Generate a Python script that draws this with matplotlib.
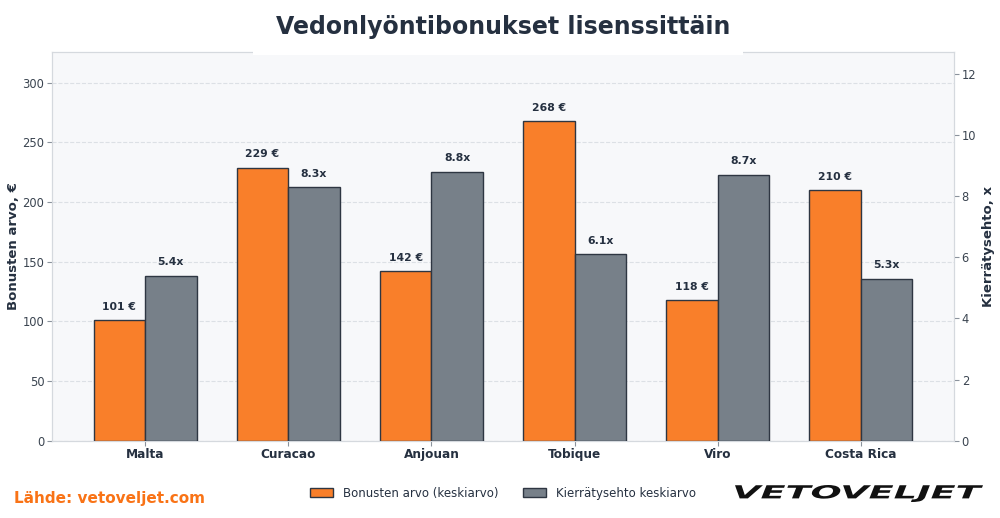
import matplotlib
matplotlib.use("Agg")
import matplotlib.pyplot as plt
import numpy as np
from matplotlib.textpath import TextPath
from matplotlib.patches import PathPatch, Rectangle
from matplotlib.font_manager import FontProperties
from matplotlib.transforms import Affine2D, IdentityTransform

# data
licenses = ["Malta", "Curacao", "Anjouan", "Tobique", "Viro", "Costa Rica"]
bonus_eur = [101, 229, 142, 268, 118, 210]
wagering_x = [5.4, 8.3, 8.8, 6.1, 8.7, 5.3]

ORANGE = "#F97F2A"
GREY = "#778089"
DARK = "#253040"
EDGE = "#2E3642"
SPINE = "#D5D9DE"

fig = plt.figure(figsize=(10, 5.18), dpi=100)
ax = fig.add_axes([0.052, 0.149, 0.902, 0.751])
ax2 = ax.twinx()
ax.set_facecolor("#F7F8FA")

x = np.arange(len(licenses))
w = 0.36

b1 = ax.bar(x - w / 2, bonus_eur, w, color=ORANGE, edgecolor=EDGE, linewidth=1,
            label="Bonusten arvo (keskiarvo)", zorder=3)
b2 = ax2.bar(x + w / 2, wagering_x, w, color=GREY, edgecolor=EDGE, linewidth=1,
             label="Kierrätysehto keskiarvo", zorder=3)

for rect, v in zip(b1, bonus_eur):
    ax.annotate(f"{v} €", (rect.get_x() + rect.get_width() / 2, v),
                xytext=(0, 6), textcoords="offset points", ha="center", va="bottom",
                fontsize=7.8, fontweight="bold", color=DARK)
for rect, v in zip(b2, wagering_x):
    ax2.annotate(f"{v}x", (rect.get_x() + rect.get_width() / 2, v),
                 xytext=(0, 6), textcoords="offset points", ha="center", va="bottom",
                 fontsize=7.8, fontweight="bold", color=DARK)

ax.set_xlim(-0.65, 5.65)
ax.set_ylim(0, 326)
ax2.set_ylim(0, 12.72)
ax.set_yticks(range(0, 301, 50))
ax2.set_yticks(range(0, 13, 2))

ax.set_xticks(x)
ax.set_xticklabels(licenses, fontsize=8.7, fontweight="bold", color=DARK)
ax.tick_params(axis="y", labelsize=8.3, colors="#8A929C", labelcolor="#3A4450",
               length=3.5, pad=2)
ax2.tick_params(axis="y", labelsize=8.3, colors="#8A929C", labelcolor="#3A4450",
                length=3.5, pad=2)
ax.tick_params(axis="x", colors="#8A929C", labelcolor=DARK, length=3.5, pad=2)

ax.grid(axis="y", linestyle="--", color="#DCE0E5", linewidth=0.8, zorder=0)
ax.set_axisbelow(True)

ax.set_ylabel("Bonusten arvo, €", fontsize=9.5, fontweight="bold", color=DARK, labelpad=2)
ax2.set_ylabel("Kierrätysehto, x", fontsize=9.5, fontweight="bold", color=DARK, labelpad=4)

for a in (ax, ax2):
    for s in a.spines.values():
        s.set_color(SPINE)

# white band behind the title, hiding the top spine there
fig.patches.append(Rectangle((0.253, 0.893), 0.49, 0.107, transform=fig.transFigure,
                             facecolor="white", edgecolor="none", zorder=5))
fig.text(0.503, 0.947, "Vedonlyöntibonukset lisenssittäin", ha="center", va="center",
         fontsize=17, fontweight="bold", color=DARK, zorder=10)

h1, l1 = ax.get_legend_handles_labels()
h2, l2 = ax2.get_legend_handles_labels()
fig.legend(h1 + h2, l1 + l2, loc="center", bbox_to_anchor=(0.503, 0.048), ncol=2,
           frameon=False, fontsize=8.5, labelcolor=DARK, handlelength=1.95,
           handleheight=0.8, handletextpad=0.85, columnspacing=2.0)

fig.text(0.014, 0.038, "Lähde: vetoveljet.com", ha="left", va="center",
         fontsize=11, fontweight="bold", color="#F97316")

# logo: stretched heavy italic wordmark
tp = TextPath((0, 0), "VETOVELJET", size=20,
              prop=FontProperties(family="DejaVu Sans", weight="heavy", style="italic"))
bb = tp.get_extents()
sx = 248 / bb.width
sy = 17 / bb.height
tr = Affine2D().translate(-bb.x0, -bb.y0).scale(sx, sy).translate(735, 16)
fig.patches.append(PathPatch(tr.transform_path(tp), transform=IdentityTransform(),
                             facecolor="#111111", edgecolor="none", zorder=10))

fig.savefig("out.png", dpi=100, facecolor="white")
